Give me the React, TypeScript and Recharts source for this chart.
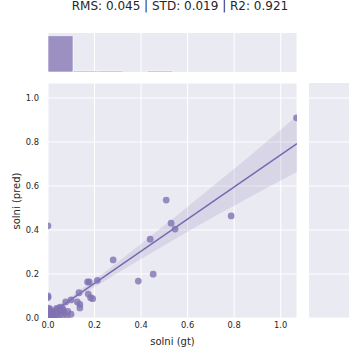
import React from 'react';
import { ComposedChart, Scatter, Line, Area, Bar, XAxis, YAxis, ZAxis, CartesianGrid } from 'recharts';

const titleText = 'RMS: 0.045 | STD: 0.019 | R2: 0.921';
const xLabel = 'solni (gt)';
const yLabel = 'solni (pred)';

const gtValues = [
  0.0, 0.0, 0.0, 1.068, 0.787, 0.508, 0.529, 0.546, 0.439, 0.452, 0.388, 0.28, 0.212, 0.17, 0.177,
  0.173, 0.183, 0.192, 0.133, 0.126, 0.137, 0.137, 0.099, 0.076, 0.099,
  0.037, 0.052, 0.066, 0.023, 0.044, 0.009, 0.0, 0.0, 0.005, 0.015, 0.028, 0.03, 0.045, 0.058, 0.062,
  0.07, 0.08, 0.018, 0.01, 0.04, 0.055, 0.085, 0.003, 0.012, 0.035,
];
const predValues = [
  0.419, 0.1, 0.093, 0.91, 0.464, 0.536, 0.431, 0.404, 0.358, 0.199, 0.168, 0.264, 0.171, 0.164, 0.164,
  0.109, 0.092, 0.088, 0.115, 0.073, 0.062, 0.046, 0.082, 0.073, 0.017,
  0.044, 0.049, 0.036, 0.014, 0.006, 0.04, 0.03, 0.0, 0.01, 0.022, 0.03, 0.002, 0.025, 0.015, 0.045,
  0.022, 0.008, 0.0, 0.03, 0.038, 0.032, 0.03, 0.045, 0.004, 0.018,
];

const regX = [0, 1.07];
const regY = [0.012, 0.793];

const bandX = [0, 0.1, 0.2, 0.3, 0.4, 0.5, 0.6, 0.7, 0.8, 0.9, 1.0, 1.07];
const bandLow = [-0.002, 0.072, 0.141, 0.205, 0.268, 0.331, 0.392, 0.452, 0.51, 0.568, 0.625, 0.664];
const bandHigh = [0.026, 0.098, 0.175, 0.255, 0.338, 0.421, 0.506, 0.592, 0.678, 0.766, 0.855, 0.92];

const histBins = ['0.00', '0.11', '0.21', '0.32', '0.43', '0.54', '0.64', '0.75', '0.86', '0.96'];
const histCounts = [75, 2, 2, 0, 2, 0, 0, 0, 0, 0];

const ticks = [0, 0.2, 0.4, 0.6, 0.8, 1.0];

const X_MAX = 1.07;
const Y_MAX = 1.068;

const points = gtValues.map((x, i) => ({ x, y: predValues[i] }));
const regData = regX.map((x, i) => ({ x, y: regY[i] }));
const bandData = bandX.map((x, i) => ({ x, band: [bandLow[i], bandHigh[i]] }));
const histData = histBins.map((b, i) => ({ bin: b, count: histCounts[i] }));
const emptyData = [{ x: 0, y: 0 }];
const rightGridLines = ticks.map((t) => [
  { x: 0, y: t },
  { x: 1, y: t },
]);

const FONT = 'DejaVu Sans, sans-serif';
const TXT = '#262626';
const BG = '#EAEAF2';
const PURPLE = '#8172b3';

const fmt = (v: number) => v.toFixed(1);
const blank = () => '';

export default function App() {
  return (
    <div style={{ position: 'absolute', left: 0, top: 0, width: 360, height: 360, background: '#fff', fontFamily: FONT }}>
      <div style={{ position: 'absolute', left: 0, top: -1.5, width: 360, textAlign: 'center', fontSize: 12, lineHeight: '14px', color: TXT }}>
        {titleText}
      </div>

      {/* top marginal: grid panel */}
      <div style={{ position: 'absolute', left: 0, top: 0 }}>
        <ComposedChart width={360} height={80} margin={{ top: 33, right: 63, bottom: 8, left: 48 }}>
          <XAxis
            type="number"
            dataKey="x"
            domain={[0, X_MAX]}
            ticks={ticks}
            allowDataOverflow
            height={0}
            tickFormatter={blank}
            axisLine={false}
            tickLine={false}
          />
          <YAxis type="number" dataKey="y" domain={[0, 1]} allowDataOverflow hide />
          <CartesianGrid horizontal={false} fill={BG} stroke="#fff" strokeWidth={1} />
          <Scatter data={emptyData} fill="none" isAnimationActive={false} />
        </ComposedChart>
      </div>

      {/* top marginal: histogram bars */}
      <div style={{ position: 'absolute', left: 0, top: 0 }}>
        <ComposedChart width={360} height={80} data={histData} margin={{ top: 33, right: 63, bottom: 8, left: 48 }} barCategoryGap={0} barGap={0}>
          <XAxis dataKey="bin" type="category" hide />
          <YAxis type="number" domain={[0, 80.6]} allowDataOverflow hide />
          <Bar dataKey="count" fill={PURPLE} fillOpacity={0.75} stroke="#fff" strokeWidth={0.6} isAnimationActive={false} />
        </ComposedChart>
      </div>

      {/* main joint plot */}
      <div style={{ position: 'absolute', left: 0, top: 0 }}>
        <ComposedChart width={360} height={360} margin={{ top: 83, right: 63, bottom: 12, left: 8 }}>
          <CartesianGrid fill={BG} stroke="#fff" strokeWidth={1} />
          <XAxis
            type="number"
            dataKey="x"
            domain={[0, X_MAX]}
            ticks={ticks}
            allowDataOverflow
            axisLine={false}
            tickLine={false}
            tickSize={0}
            tickMargin={4}
            height={30}
            tickFormatter={fmt}
            tick={{ fontSize: 8.3, fill: TXT, fontFamily: FONT }}
          />
          <YAxis
            type="number"
            dataKey="y"
            domain={[0, Y_MAX]}
            ticks={ticks}
            allowDataOverflow
            axisLine={false}
            tickLine={false}
            tickSize={0}
            tickMargin={9}
            width={40}
            tickFormatter={fmt}
            tick={{ fontSize: 8.3, fill: TXT, fontFamily: FONT }}
          />
          <ZAxis range={[36, 36]} />
          <Area data={bandData} dataKey="band" type="monotone" fill={PURPLE} fillOpacity={0.17} stroke="none" isAnimationActive={false} />
          <Scatter data={points} fill={PURPLE} fillOpacity={0.8} isAnimationActive={false} />
          <Line data={regData} dataKey="y" stroke="#7568b0" strokeWidth={1.5} dot={false} isAnimationActive={false} />
        </ComposedChart>
      </div>

      {/* right marginal: panel with white grid lines at the y ticks */}
      <div style={{ position: 'absolute', left: 0, top: 0 }}>
        <ComposedChart width={360} height={360} margin={{ top: 83, right: 11, bottom: 42, left: 309 }}>
          <XAxis type="number" dataKey="x" domain={[0, 1]} allowDataOverflow hide />
          <YAxis type="number" dataKey="y" domain={[0, Y_MAX]} allowDataOverflow hide />
          <CartesianGrid vertical={false} horizontal={false} fill={BG} />
          {rightGridLines.map((d, i) => (
            <Line
              key={i}
              data={d}
              dataKey="y"
              type="linear"
              stroke="#ffffff"
              strokeWidth={1}
              dot={false}
              activeDot={false}
              isAnimationActive={false}
            />
          ))}
        </ComposedChart>
      </div>

      <div style={{ position: 'absolute', left: 48, top: 336, width: 249, textAlign: 'center', fontSize: 10, lineHeight: '12px', color: TXT }}>
        {xLabel}
      </div>
      <div
        style={{
          position: 'absolute',
          left: 16.5 - 40,
          top: 200.5 - 6,
          width: 80,
          textAlign: 'center',
          fontSize: 10,
          lineHeight: '12px',
          color: TXT,
          transform: 'rotate(-90deg)',
          transformOrigin: '50% 50%',
        }}
      >
        {yLabel}
      </div>
    </div>
  );
}
